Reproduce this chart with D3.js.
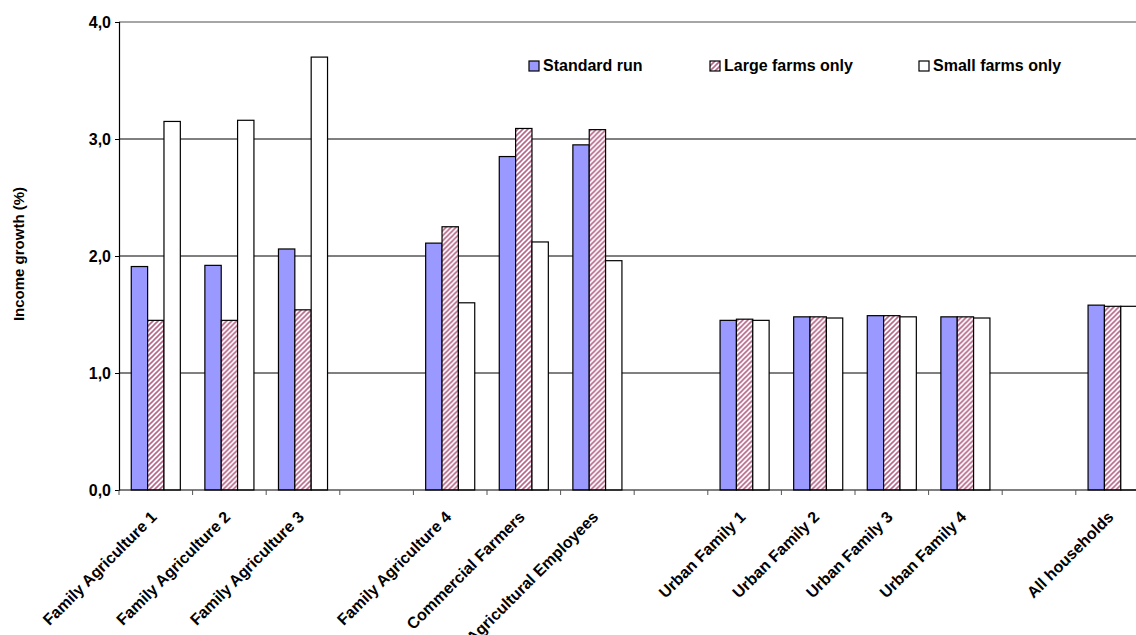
<!DOCTYPE html>
<html>
<head>
<meta charset="utf-8">
<script src="https://cdn.jsdelivr.net/npm/d3@7"></script>
<style>
  html, body { margin: 0; padding: 0; background: #fff; overflow: hidden; }
  text { font-family: "Liberation Sans", Arial, sans-serif; font-weight: bold; fill: #000; }
</style>
</head>
<body>
<svg id="chart" width="1136" height="635"></svg>
<script>
// Categories (empty strings are the blank columns between groups)
const categories = [
    "Family Agriculture 1", "Family Agriculture 2", "Family Agriculture 3", "",
    "Family Agriculture 4", "Commercial Farmers", "Agricultural Employees", "",
    "Urban Family 1", "Urban Family 2", "Urban Family 3", "Urban Family 4", "",
    "All households"
];

const seriesNames = ["Standard run", "Large farms only", "Small farms only"];

const standardRun = [1.91, 1.92, 2.06, null, 2.11, 2.85, 2.95, null, 1.45, 1.48, 1.49, 1.48, null, 1.58];
const largeFarms  = [1.45, 1.45, 1.54, null, 2.25, 3.09, 3.08, null, 1.46, 1.48, 1.49, 1.48, null, 1.57];
const smallFarms  = [3.15, 3.16, 3.70, null, 1.60, 2.12, 1.96, null, 1.45, 1.47, 1.48, 1.47, null, 1.57];

const yTicks = [0, 1, 2, 3, 4];

const seriesValues = [standardRun, largeFarms, smallFarms];

const svg = d3.select("#chart");

// plot area (right side runs past the window, like the source image)
const plotLeft = 119, plotTop = 22, plotBottom = 490;
const slot = 73.6;
const plotRight = plotLeft + slot * categories.length;

const x0 = d3.scaleBand()
    .domain(d3.range(categories.length))
    .range([plotLeft, plotRight])
    .padding(0);

const x1 = d3.scaleBand()
    .domain(seriesNames)
    .range([0, x0.bandwidth()])
    .paddingInner(0)
    .paddingOuter(0.75);

const y = d3.scaleLinear()
    .domain([0, 4])
    .range([plotBottom, plotTop]);

// hatch pattern for "Large farms only"
const defs = svg.append("defs");
const pat = defs.append("pattern")
    .attr("id", "hatch")
    .attr("patternUnits", "userSpaceOnUse")
    .attr("width", 5)
    .attr("height", 5);
pat.append("rect").attr("width", 5).attr("height", 5).attr("fill", "#fff");
pat.append("path")
    .attr("d", "M-1,1 l2,-2 M0,5 l5,-5 M4,6 l2,-2")
    .attr("stroke", "#b8678a")
    .attr("stroke-width", 1.6);

const fills = ["#9999ff", "url(#hatch)", "#ffffff"];

// gridlines
svg.append("g")
    .selectAll("line")
    .data(yTicks.filter(t => t > 0 && t < 4))
    .join("line")
    .attr("x1", plotLeft).attr("x2", plotRight)
    .attr("y1", d => y(d)).attr("y2", d => y(d))
    .attr("stroke", "#000")
    .attr("stroke-width", 1);

// top border of plot area
svg.append("line")
    .attr("x1", plotLeft).attr("x2", plotRight)
    .attr("y1", y(4)).attr("y2", y(4))
    .attr("stroke", "#888")
    .attr("stroke-width", 1.5);

// bars
const rows = categories.map((c, i) => ({ i: i, name: c }));
const groups = svg.append("g")
    .selectAll("g")
    .data(rows.filter(r => r.name !== ""))
    .join("g")
    .attr("transform", d => `translate(${x0(d.i)},0)`);

groups.selectAll("rect")
    .data(d => seriesNames.map((s, k) => ({ s: s, k: k, v: seriesValues[k][d.i] })))
    .join("rect")
    .attr("x", d => x1(d.s))
    .attr("y", d => y(d.v))
    .attr("width", x1.bandwidth())
    .attr("height", d => y(0) - y(d.v))
    .attr("fill", d => fills[d.k])
    .attr("stroke", "#000")
    .attr("stroke-width", 1.2);

// y axis
const yAxis = d3.axisLeft(y)
    .tickValues(yTicks)
    .tickSize(4)
    .tickPadding(4)
    .tickFormat(d => d3.format(".1f")(d).replace(".", ","));

const yg = svg.append("g")
    .attr("transform", `translate(${plotLeft},0)`)
    .call(yAxis);
yg.select(".domain").attr("stroke", "#000").attr("stroke-width", 1.2);
yg.selectAll(".tick line").attr("stroke", "#000");
yg.selectAll(".tick text")
    .style("font-size", "16px")
    .attr("dy", "0.35em");

// x axis: line plus ticks at the slot boundaries
svg.append("line")
    .attr("x1", plotLeft).attr("x2", plotRight)
    .attr("y1", plotBottom).attr("y2", plotBottom)
    .attr("stroke", "#000")
    .attr("stroke-width", 1.2);

svg.append("g")
    .selectAll("line")
    .data(d3.range(categories.length + 1))
    .join("line")
    .attr("x1", d => plotLeft + d * x0.step())
    .attr("x2", d => plotLeft + d * x0.step())
    .attr("y1", plotBottom)
    .attr("y2", plotBottom + 5)
    .attr("stroke", "#555");

// rotated category labels
svg.append("g")
    .selectAll("text")
    .data(rows.filter(r => r.name !== ""))
    .join("text")
    .attr("transform", d => `translate(${x0(d.i) + x0.bandwidth() / 2 + 2},${plotBottom + 28}) rotate(-45)`)
    .attr("text-anchor", "end")
    .style("font-size", "16px")
    .text(d => d.name);

// y axis title
svg.append("text")
    .attr("transform", `translate(24,254) rotate(-90)`)
    .attr("text-anchor", "middle")
    .style("font-size", "15px")
    .text("Income growth (%)");

// legend
const legendX = [529, 710, 919];
const legend = svg.append("g")
    .selectAll("g")
    .data(seriesNames)
    .join("g")
    .attr("transform", (d, k) => `translate(${legendX[k]},61)`);

legend.append("rect")
    .attr("width", 10)
    .attr("height", 10)
    .attr("fill", (d, k) => fills[k])
    .attr("stroke", "#000")
    .attr("stroke-width", 1.2);

legend.append("text")
    .attr("x", 14)
    .attr("y", 10)
    .style("font-size", "16px")
    .text(d => d);
</script>
</body>
</html>
